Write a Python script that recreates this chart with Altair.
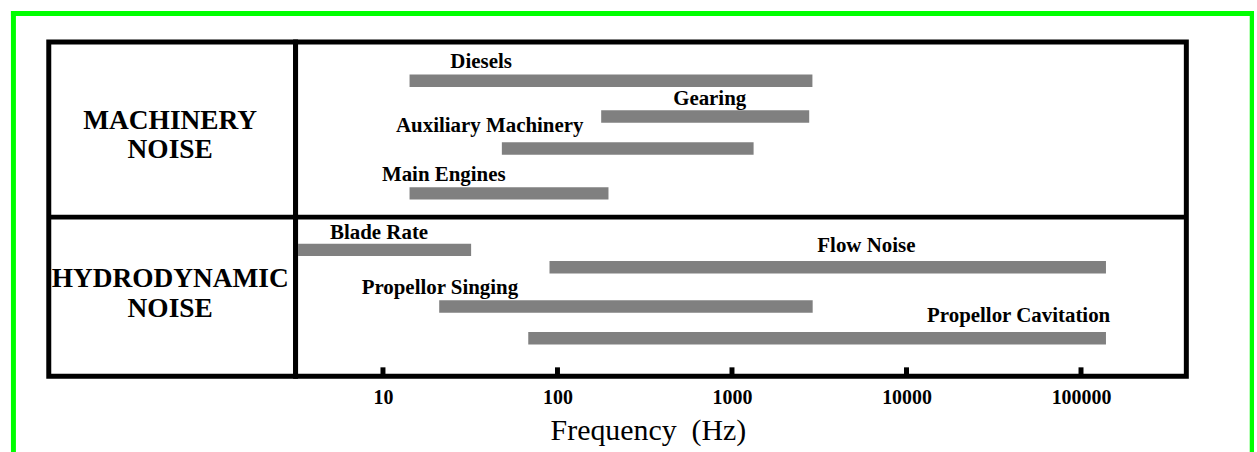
import altair as alt
import pandas as pd

# ---- data ----
BAR_NAMES = ["Diesels", "Gearing", "Auxiliary Machinery", "Main Engines",
             "Blade Rate", "Flow Noise", "Propellor Singing", "Propellor Cavitation"]
BAR_LOW_HZ = [14.2, 178, 48, 14.2, 3.26, 90, 21, 68]
BAR_HIGH_HZ = [2890, 2770, 1330, 196, 32, 139000, 2900, 139000]
BAR_LANE = [1.16, 2.23, 3.19, 4.53, 6.22, 6.74, 7.91, 8.86]
LABEL_HZ = [36.5, 745, 40.9, 22.3, 9.5, 5890, 21.2, 43900]
LABEL_LANE = [0.60, 1.70, 2.53, 3.98, 5.71, 6.10, 7.35, 8.21]

GROUP_LINES = ["MACHINERY", "NOISE", "HYDRODYNAMIC", "NOISE"]
GROUP_LINE_LANE = [2.37, 3.24, 7.10, 8.00]
GROUP_SPLIT_LANE = [5.24]

TICK_VALUES = [10, 100, 1000, 10000, 100000]
X_DOMAIN = [3.157, 401400]
LANE_DOMAIN = [0, 10]
X_TITLE = "Frequency\u00a0 (Hz)"

SERIF = "Liberation Serif"
GRAY = "#808080"
GREEN = "#00ff00"

lane_scale = alt.Scale(domain=LANE_DOMAIN, reverse=True, nice=False, zero=False)
x_scale = alt.Scale(type="log", domain=X_DOMAIN, nice=False)

bars_df = pd.DataFrame({
    "name": BAR_NAMES, "low": BAR_LOW_HZ, "high": BAR_HIGH_HZ, "lane": BAR_LANE,
    "label_hz": LABEL_HZ, "label_lane": LABEL_LANE,
})
tick_df = pd.DataFrame({"hz": TICK_VALUES})
split_df = pd.DataFrame({"lane": GROUP_SPLIT_LANE})
group_df = pd.DataFrame({"line": GROUP_LINES, "lane": GROUP_LINE_LANE})
one_df = pd.DataFrame({"k": [0]})

x_axis = alt.Axis(
    values=TICK_VALUES, format="d", domain=False, ticks=False, grid=False,
    labelFont=SERIF, labelFontWeight="bold", labelFontSize=20, labelColor="black",
    labelBaseline="middle", labelPadding=21.5, labelFlush=False, labelOverlap=False,
    title=X_TITLE, titleFont=SERIF, titleFontWeight="normal", titleFontSize=30,
    titleColor="black", titleX=354, titleY=64, titleAlign="center",
    titleBaseline="alphabetic",
)

# ---- right panel ----
bars = alt.Chart(bars_df).mark_rule(color=GRAY, strokeWidth=12.5, strokeCap="butt").encode(
    x=alt.X("low:Q", scale=x_scale, axis=x_axis),
    x2="high:Q",
    y=alt.Y("lane:Q", scale=lane_scale, axis=None),
)
bar_labels = alt.Chart(bars_df).mark_text(
    font=SERIF, fontWeight="bold", fontSize=21, align="center", baseline="middle", color="black"
).encode(
    x=alt.X("label_hz:Q", scale=x_scale),
    y=alt.Y("label_lane:Q", scale=lane_scale),
    text="name:N",
)
ticks = alt.Chart(tick_df).mark_rule(color="black", strokeWidth=5).encode(
    x=alt.X("hz:Q", scale=x_scale),
    y=alt.value(327),
    y2=alt.value(336),
)
right_split = alt.Chart(split_df).mark_rule(color="black", strokeWidth=5).encode(
    y=alt.Y("lane:Q", scale=lane_scale),
    x=alt.value(0),
    x2=alt.value("width"),
)
right = alt.layer(bars, ticks, right_split, bar_labels).properties(width=895, height=336)

# ---- left panel ----
left_text = alt.Chart(group_df).mark_text(
    font=SERIF, fontWeight="bold", fontSize=27.5, align="center", baseline="middle", color="black"
).encode(
    x=alt.value(122),
    y=alt.Y("lane:Q", scale=lane_scale, axis=None),
    text="line:N",
)
left_split = alt.Chart(split_df).mark_rule(color="black", strokeWidth=5).encode(
    y=alt.Y("lane:Q", scale=lane_scale, axis=None),
    x=alt.value(0),
    x2=alt.value("width"),
)
# green frame around the picture (filled strips, no stroke, so bounds are exact)
green_top = alt.Chart(one_df).mark_rect(color=GREEN, strokeWidth=0).encode(
    x=alt.value(-38), x2=alt.value(1211), y=alt.value(-31), y2=alt.value(-26)
)
green_left = alt.Chart(one_df).mark_rect(color=GREEN, strokeWidth=0).encode(
    x=alt.value(-38), x2=alt.value(-33), y=alt.value(-31), y2=alt.value(414)
)
green_right = alt.Chart(one_df).mark_rect(color=GREEN, strokeWidth=0).encode(
    x=alt.value(1206.7), x2=alt.value(1211), y=alt.value(-31), y2=alt.value(414)
)
left = alt.layer(green_top, green_left, green_right, left_split, left_text).properties(
    width=248, height=336
)

chart = alt.hconcat(left, right, spacing=0, bounds="flush").configure_view(
    stroke="black", strokeWidth=5, fill="white"
).properties(
    padding={"left": 8, "top": 7, "right": 0, "bottom": 0}, background="white"
)

chart.save("out.html", embed_options={"renderer": "svg", "actions": False})
